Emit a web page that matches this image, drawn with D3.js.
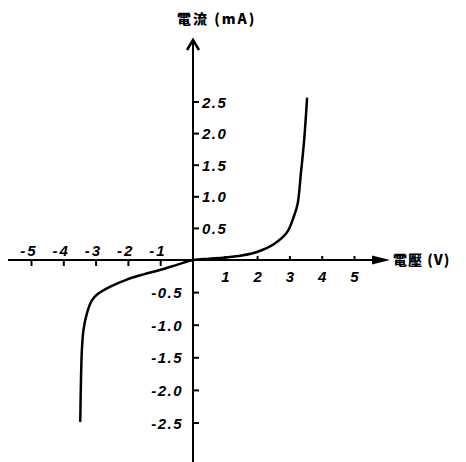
<!DOCTYPE html>
<html><head><meta charset="utf-8">
<script src="https://cdn.jsdelivr.net/npm/d3@7"></script>
<style>body{margin:0;background:#fff}svg{display:block}</style>
</head><body>
<svg id="c" width="466" height="462"></svg>
<script>
const voltage = [-3.49, -3.47, -3.44, -3.39, -3.28, -3.13, -2.97, -2.56, -2.05, -1.53, -1.0, -0.5, 0, 0.5, 1.0, 1.5, 2.0, 2.5, 2.9, 3.13, 3.24, 3.34, 3.44, 3.53];
const current = [-2.47, -1.88, -1.38, -1.07, -0.81, -0.62, -0.53, -0.41, -0.30, -0.22, -0.15, -0.075, 0, 0.02, 0.04, 0.07, 0.13, 0.25, 0.43, 0.70, 0.89, 1.37, 1.89, 2.55];
const xTicks = [-5, -4, -3, -2, -1, 1, 2, 3, 4, 5];
const yTicks = [-2.5, -2.0, -1.5, -1.0, -0.5, 0.5, 1.0, 1.5, 2.0, 2.5];
const yTitle = "電流 (mA)";
const xTitle = "電壓 (V)";

const svg = d3.select("#c");
const x = d3.scaleLinear().domain([-5, 0, 5]).range([31.5, 193, 354.5]);
const y = d3.scaleLinear().domain([-2.5, 0, 2.5]).range([423, 260, 102]);
const X0 = x(0), Y0 = y(0);
const font = "'Liberation Sans', Arial, sans-serif";
const cjk = "'Noto Sans CJK TC', 'Noto Sans CJK SC', sans-serif";

// X axis line
svg.append("line").attr("x1", 8).attr("x2", 376).attr("y1", Y0).attr("y2", Y0)
  .attr("stroke", "#000").attr("stroke-width", 2);
svg.append("path").attr("d", `M372,${Y0-4.5} L390,${Y0} L372,${Y0+4.5} Z`).attr("fill", "#000");
svg.append("text").attr("x", 393).attr("y", Y0 + 5).attr("font-family", cjk)
  .attr("font-weight", "900").attr("font-size", 14).attr("letter-spacing", 1).attr("fill", "#000").text(xTitle);

// Y axis line
svg.append("line").attr("x1", X0).attr("x2", X0).attr("y1", 41).attr("y2", 462)
  .attr("stroke", "#000").attr("stroke-width", 2);
svg.append("path").attr("d", `M${X0-6},${50} L${X0},${40} L${X0+6},${50}`)
  .attr("fill", "none").attr("stroke", "#000").attr("stroke-width", 2.5);
svg.append("text").attr("x", 177).attr("y", 24).attr("font-family", cjk)
  .attr("font-weight", "900").attr("font-size", 14).attr("letter-spacing", 2).attr("fill", "#000").text(yTitle);

// X ticks
xTicks.forEach(v => {
  const px = x(v);
  if (v < 0) {
    svg.append("line").attr("x1", px).attr("x2", px).attr("y1", Y0).attr("y2", Y0 + 6)
      .attr("stroke", "#000").attr("stroke-width", 2);
    svg.append("text").attr("x", px + 6).attr("y", Y0 - 4).attr("text-anchor", "end")
      .attr("font-family", font).attr("font-style", "italic").attr("font-weight", "bold")
      .attr("font-size", 15).attr("letter-spacing", 2).text("-" + Math.abs(v));
  } else {
    svg.append("line").attr("x1", px).attr("x2", px).attr("y1", Y0 - 4).attr("y2", Y0)
      .attr("stroke", "#000").attr("stroke-width", 2);
    svg.append("text").attr("x", px).attr("y", Y0 + 22).attr("text-anchor", "middle")
      .attr("font-family", font).attr("font-style", "italic").attr("font-weight", "bold")
      .attr("font-size", 15).text(String(v));
  }
});

// Y ticks
yTicks.forEach(v => {
  const py = y(v);
  svg.append("line").attr("x1", X0).attr("x2", X0 + 6).attr("y1", py).attr("y2", py)
    .attr("stroke", "#000").attr("stroke-width", 2);
  if (v > 0) {
    svg.append("text").attr("x", X0 + 9).attr("y", py + 5.5)
      .attr("font-family", font).attr("font-style", "italic").attr("font-weight", "bold")
      .attr("font-size", 15).attr("letter-spacing", 1.5).text(v.toFixed(1));
  } else {
    svg.append("text").attr("x", 183).attr("y", py + 5.5).attr("text-anchor", "end")
      .attr("font-family", font).attr("font-style", "italic").attr("font-weight", "bold")
      .attr("font-size", 15).attr("letter-spacing", 1.5).text("-" + Math.abs(v).toFixed(1));
  }
});

// Curve
const pts = voltage.map((v, i) => [v, current[i]]);
const line = d3.line().x(d => x(d[0])).y(d => y(d[1])).curve(d3.curveCatmullRom.alpha(0.5));
svg.append("path").datum(pts).attr("d", line).attr("fill", "none")
  .attr("stroke", "#000").attr("stroke-width", 2.5).attr("stroke-linecap", "round");
</script>
</body></html>
